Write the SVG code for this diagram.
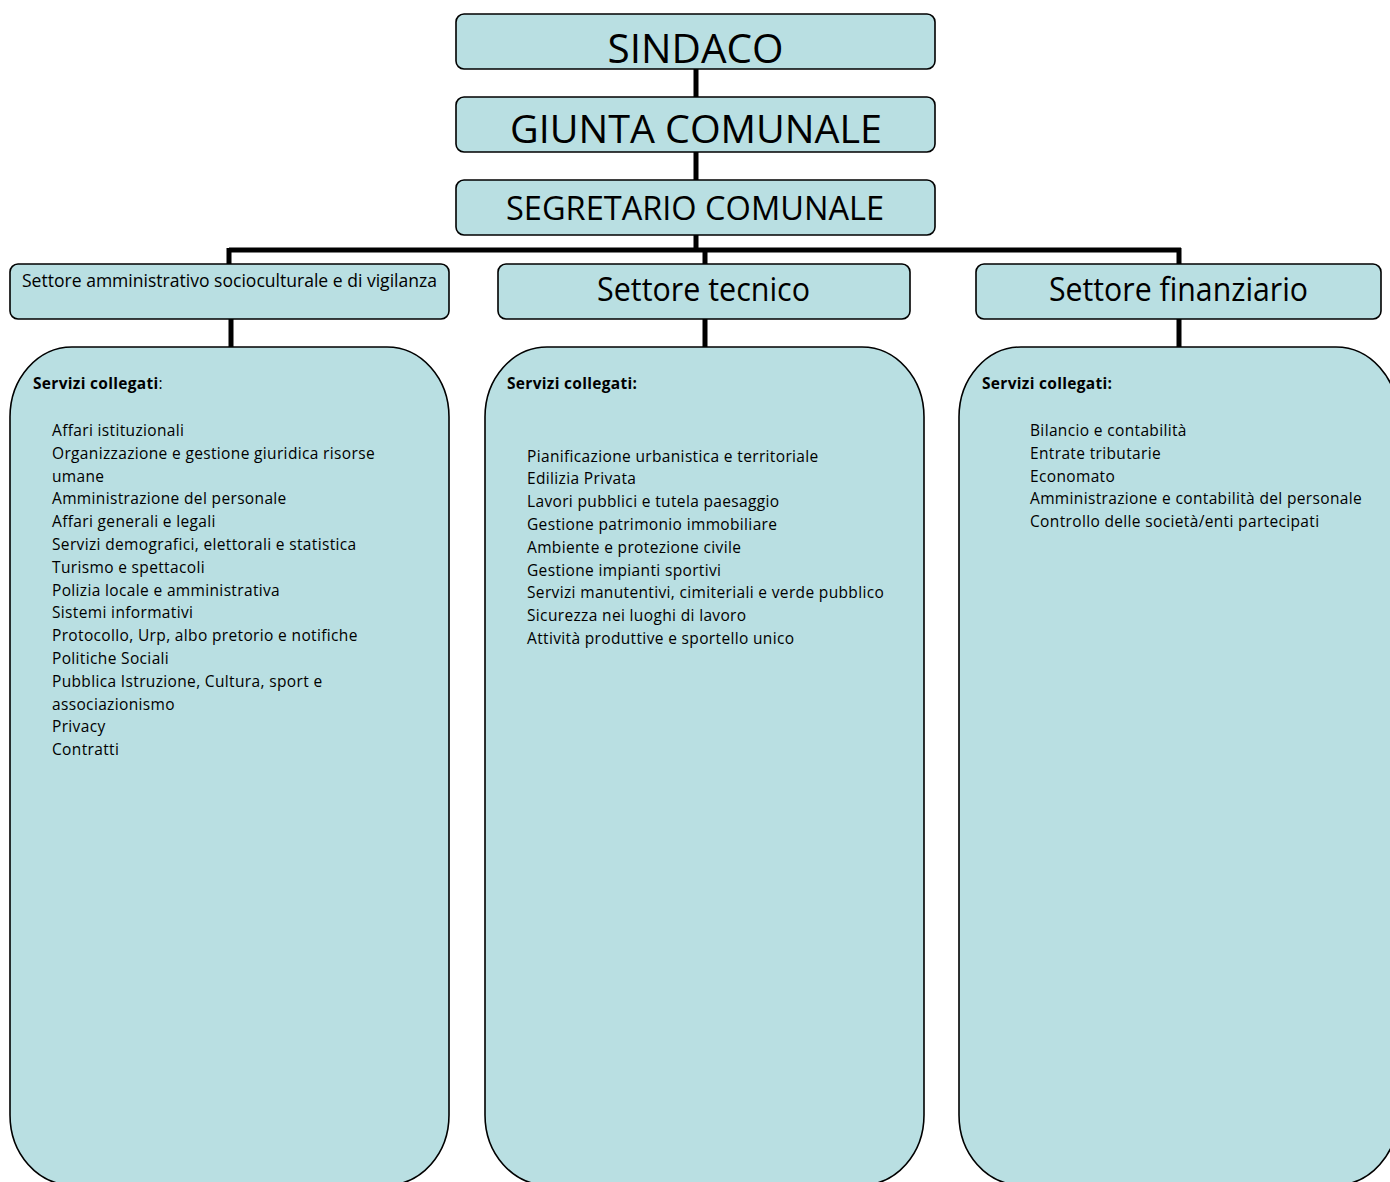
<svg xmlns="http://www.w3.org/2000/svg" width="1390" height="1182" viewBox="0 0 1390 1182">
<style>
.box{fill:#B9DFE2;stroke:#000;stroke-width:1.6}
.big{fill:#B9DFE2;stroke:#000;stroke-width:1.6}
.conn{stroke:#000;stroke-width:5;fill:none}
.t{font-family:"Open Sans","DejaVu Sans",sans-serif;fill:#000}
.li{font-size:15.5px;letter-spacing:0.35px}
.hd{font-size:15.5px;font-weight:bold;letter-spacing:0.3px}
</style>
<rect width="1390" height="1182" fill="#fff"/>
<g id="connectors">
<path class="conn" d="M696 69V97M696 152V180M696 235V250M229 250H1181M229 248V264M705 250V264M1179 248V264M231 319V347M705 319V347M1179 319V347"/>
</g>
<g id="sindaco">
<rect class="box" x="456" y="14" width="479" height="55" rx="8"/>
<text class="t" x="695.5" y="63" font-size="41" text-anchor="middle" textLength="176" lengthAdjust="spacingAndGlyphs">SINDACO</text>
</g>
<g id="giunta">
<rect class="box" x="456" y="97" width="479" height="55" rx="8"/>
<text class="t" x="696" y="143" font-size="39" text-anchor="middle" textLength="372" lengthAdjust="spacingAndGlyphs">GIUNTA COMUNALE</text>
</g>
<g id="segretario">
<rect class="box" x="456" y="180" width="479" height="55" rx="8"/>
<text class="t" x="695" y="220" font-size="32" text-anchor="middle" textLength="378" lengthAdjust="spacingAndGlyphs">SEGRETARIO COMUNALE</text>
</g>
<g id="settore-amministrativo">
<rect class="box" x="10" y="264" width="439" height="55" rx="8"/>
<text class="t" x="22" y="287" font-size="18" textLength="415" lengthAdjust="spacingAndGlyphs">Settore amministrativo socioculturale e di vigilanza</text>
</g>
<g id="settore-tecnico">
<rect class="box" x="498" y="264" width="412" height="55" rx="8"/>
<text class="t" x="703.5" y="301" font-size="32" text-anchor="middle" textLength="213" lengthAdjust="spacingAndGlyphs">Settore tecnico</text>
</g>
<g id="settore-finanziario">
<rect class="box" x="976" y="264" width="405" height="55" rx="8"/>
<text class="t" x="1178.5" y="301" font-size="32" text-anchor="middle" textLength="259" lengthAdjust="spacingAndGlyphs">Settore finanziario</text>
</g>
<g id="servizi-amministrativo">
<rect class="big" x="10" y="347" width="439" height="838" rx="62" ry="70"/>
<text class="t hd" x="33" y="389">Servizi collegati<tspan font-weight="normal">:</tspan></text>
<g class="t li">
<text x="52" y="436">Affari istituzionali</text>
<text x="52" y="458.8">Organizzazione e gestione giuridica risorse</text>
<text x="52" y="481.6">umane</text>
<text x="52" y="504.4">Amministrazione del personale</text>
<text x="52" y="527.2">Affari generali e legali</text>
<text x="52" y="550">Servizi demografici, elettorali e statistica</text>
<text x="52" y="572.8">Turismo e spettacoli</text>
<text x="52" y="595.6">Polizia locale e amministrativa</text>
<text x="52" y="618.4">Sistemi informativi</text>
<text x="52" y="641.2">Protocollo, Urp, albo pretorio e notifiche</text>
<text x="52" y="664">Politiche Sociali</text>
<text x="52" y="686.8">Pubblica Istruzione, Cultura, sport e</text>
<text x="52" y="709.6">associazionismo</text>
<text x="52" y="732.4">Privacy</text>
<text x="52" y="755.2">Contratti</text>
</g>
</g>
<g id="servizi-tecnico">
<rect class="big" x="485" y="347" width="439" height="838" rx="62" ry="70"/>
<text class="t hd" x="507" y="389">Servizi collegati:</text>
<g class="t li">
<text x="527" y="461.5">Pianificazione urbanistica e territoriale</text>
<text x="527" y="484.3">Edilizia Privata</text>
<text x="527" y="507.1">Lavori pubblici e tutela paesaggio</text>
<text x="527" y="529.9">Gestione patrimonio immobiliare</text>
<text x="527" y="552.7">Ambiente e protezione civile</text>
<text x="527" y="575.5">Gestione impianti sportivi</text>
<text x="527" y="598.3">Servizi manutentivi, cimiteriali e verde pubblico</text>
<text x="527" y="621.1">Sicurezza nei luoghi di lavoro</text>
<text x="527" y="643.9">Attività produttive e sportello unico</text>
</g>
</g>
<g id="servizi-finanziario">
<rect class="big" x="959" y="347" width="439" height="838" rx="62" ry="70"/>
<text class="t hd" x="982" y="389">Servizi collegati:</text>
<g class="t li">
<text x="1030" y="436">Bilancio e contabilità</text>
<text x="1030" y="458.8">Entrate tributarie</text>
<text x="1030" y="481.6">Economato</text>
<text x="1030" y="504.4">Amministrazione e contabilità del personale</text>
<text x="1030" y="527.2">Controllo delle società/enti partecipati</text>
</g>
</g>
</svg>
